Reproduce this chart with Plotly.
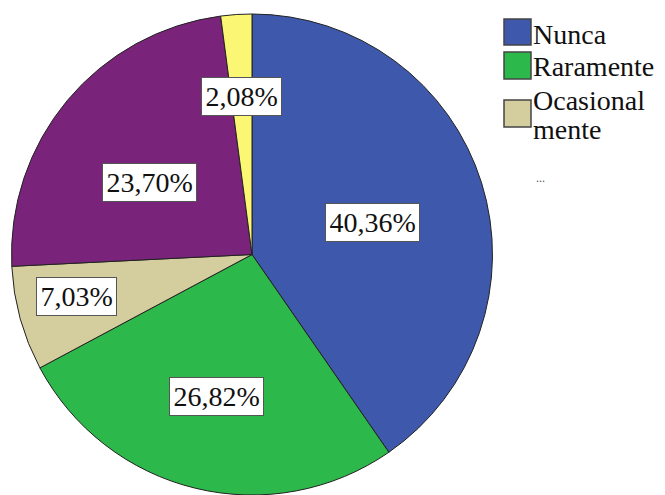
import math
import plotly.graph_objects as go

# ---- data ----
categories = ["Nunca", "Raramente", "Ocasionalmente", "Frecuentemente", "Siempre"]
values = [40.36, 26.82, 7.03, 23.70, 2.08]
value_labels = ["40,36%", "26,82%", "7,03%", "23,70%", "2,08%"]

# ---- styling ----
colors = ["#3E58AC", "#2DB84B", "#D4CE9E", "#79247A", "#FBF673"]
label_radius = [0.52, 0.61, 0.75, 0.52, 0.66]
label_angle_shift = [2.4, 0.6, 1.9, -4.6, 0.0]
FONT = "Liberation Serif"

W, H = 665, 495
ML, MR, MT, MB = 10, 0, 14, 0
PW, PH = W - ML - MR, H - MT - MB
pie_w = 484

def px2paper(x, y):
    return (x - ML) / PW, 1 - (y - MT) / PH

fig = go.Figure()
fig.add_trace(go.Pie(
    labels=categories, values=values, sort=False, direction="clockwise",
    rotation=0, textinfo="none", hoverinfo="label+percent",
    marker=dict(colors=colors, line=dict(color="#222222", width=1)),
    domain=dict(x=[0, pie_w / PW], y=[0, 1]), showlegend=False,
))

R = min(pie_w, PH) / 2
cx, cy = ML + pie_w / 2, MT + PH / 2
total = sum(values)
cum = 0.0
annotations = []
for i, v in enumerate(values):
    mid = (cum + v / 2) / total * 360 + label_angle_shift[i]
    cum += v
    th = math.radians(mid)
    px = cx + label_radius[i] * R * math.sin(th)
    py = cy - label_radius[i] * R * math.cos(th)
    xp, yp = px2paper(px, py)
    annotations.append(dict(
        x=xp, y=yp, xref="paper", yref="paper", text=value_labels[i],
        showarrow=False, xanchor="center", yanchor="middle",
        font=dict(family=FONT, size=28, color="#111111"),
        bgcolor="white", bordercolor="#555555", borderwidth=1, borderpad=3.5,
        height=30,
    ))

# manual legend (only first three entries, then ellipsis)
shapes = []
sw_boxes = [(19, 45), (52, 79), (100, 127)]
text_lines = [[(34.5, "Nunca")], [(66, "Raramente")], [(100, "Ocasional"), (129, "mente")]]
for i, (y0, y1) in enumerate(sw_boxes):
    x0p, y0p = px2paper(504, y0)
    x1p, y1p = px2paper(531, y1)
    shapes.append(dict(type="rect", xref="paper", yref="paper",
                       x0=x0p, x1=x1p, y0=y1p, y1=y0p,
                       fillcolor=colors[i], line=dict(color="#444444", width=1.5)))
    for ty, txt in text_lines[i]:
        xp, yp = px2paper(532, ty)
        annotations.append(dict(x=xp, y=yp, xref="paper", yref="paper", text=txt,
                                showarrow=False, xanchor="left", yanchor="middle",
                                height=26, borderpad=0,
                                font=dict(family=FONT, size=28, color="#111111")))
xp, yp = px2paper(534, 178)
annotations.append(dict(x=xp, y=yp, xref="paper", yref="paper", text="...",
                        showarrow=False, xanchor="left", yanchor="middle",
                        font=dict(family=FONT, size=12, color="#555555")))

fig.update_layout(
    width=W, height=H, margin=dict(l=ML, r=MR, t=MT, b=MB),
    paper_bgcolor="white", plot_bgcolor="white",
    font=dict(family=FONT),
    annotations=annotations, shapes=shapes, showlegend=False,
)
fig.write_html("out.html")
